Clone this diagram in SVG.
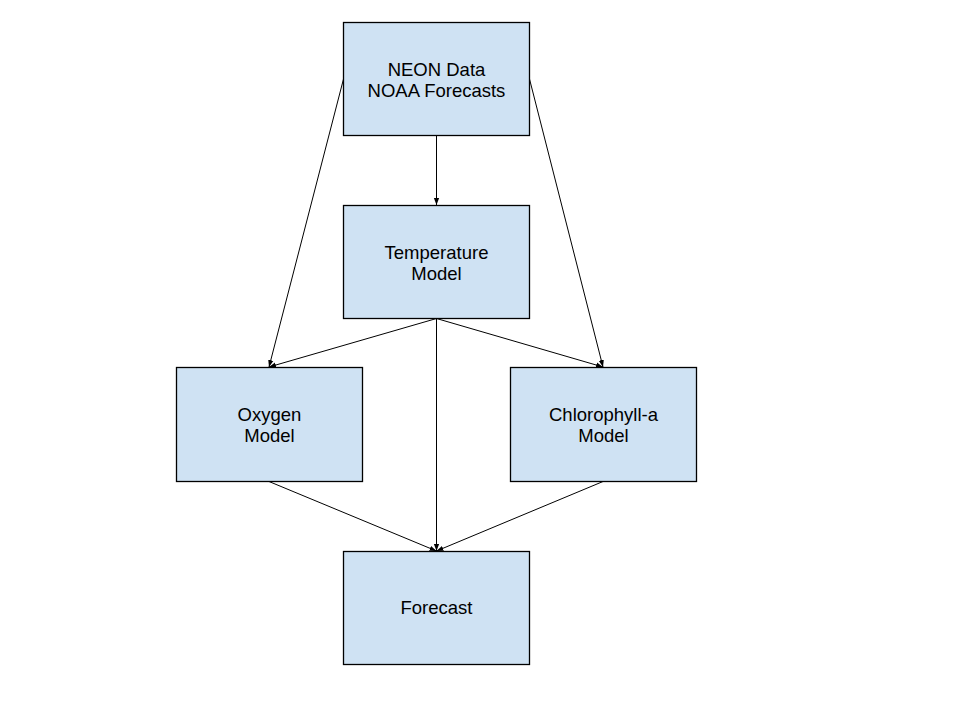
<svg xmlns="http://www.w3.org/2000/svg" width="960" height="720" viewBox="0 0 960 720">
<style>
.box{fill:#cfe2f3;stroke:#000;stroke-width:1.3}
.lbl{font-family:"Liberation Sans",Arial,sans-serif;font-size:18.5px;fill:#000;text-anchor:middle}
.edge{stroke:#000;stroke-width:1;fill:none;marker-end:url(#ah)}
</style>
<defs>
<marker id="ah" viewBox="0 0 8 8" refX="8" refY="4" markerWidth="7" markerHeight="7" markerUnits="userSpaceOnUse" orient="auto">
<path d="M0,1 L8,4 L0,7 z" fill="#000"/>
</marker>
</defs>
<rect width="960" height="720" fill="#fff"/>
<g id="connectors">
<line class="edge" x1="343.5" y1="79" x2="269" y2="367"/>
<line class="edge" x1="529.5" y1="79" x2="603" y2="367"/>
<line class="edge" x1="436.5" y1="135.5" x2="436.5" y2="205"/>
<line class="edge" x1="436.5" y1="318.5" x2="269" y2="367"/>
<line class="edge" x1="436.5" y1="318.5" x2="603" y2="367"/>
<line class="edge" x1="436.5" y1="318.5" x2="436.5" y2="551"/>
<line class="edge" x1="269" y1="481.5" x2="436.5" y2="551"/>
<line class="edge" x1="603" y1="481.5" x2="436.5" y2="551"/>
</g>
<g id="neon">
<rect class="box" x="343.5" y="22.5" width="186" height="113"/>
<text class="lbl" x="436.5" y="76">NEON Data</text>
<text class="lbl" x="436.5" y="97">NOAA Forecasts</text>
</g>
<g id="temperature">
<rect class="box" x="343.5" y="205.5" width="186" height="113"/>
<text class="lbl" x="436.5" y="259">Temperature</text>
<text class="lbl" x="436.5" y="280">Model</text>
</g>
<g id="oxygen">
<rect class="box" x="176.5" y="367.5" width="186" height="114"/>
<text class="lbl" x="269.5" y="421">Oxygen</text>
<text class="lbl" x="269.5" y="442">Model</text>
</g>
<g id="chlorophyll">
<rect class="box" x="510.5" y="367.5" width="186" height="114"/>
<text class="lbl" x="603.5" y="421">Chlorophyll-a</text>
<text class="lbl" x="603.5" y="442">Model</text>
</g>
<g id="forecast">
<rect class="box" x="343.5" y="551.5" width="186" height="113"/>
<text class="lbl" x="436.5" y="614">Forecast</text>
</g>
</svg>
